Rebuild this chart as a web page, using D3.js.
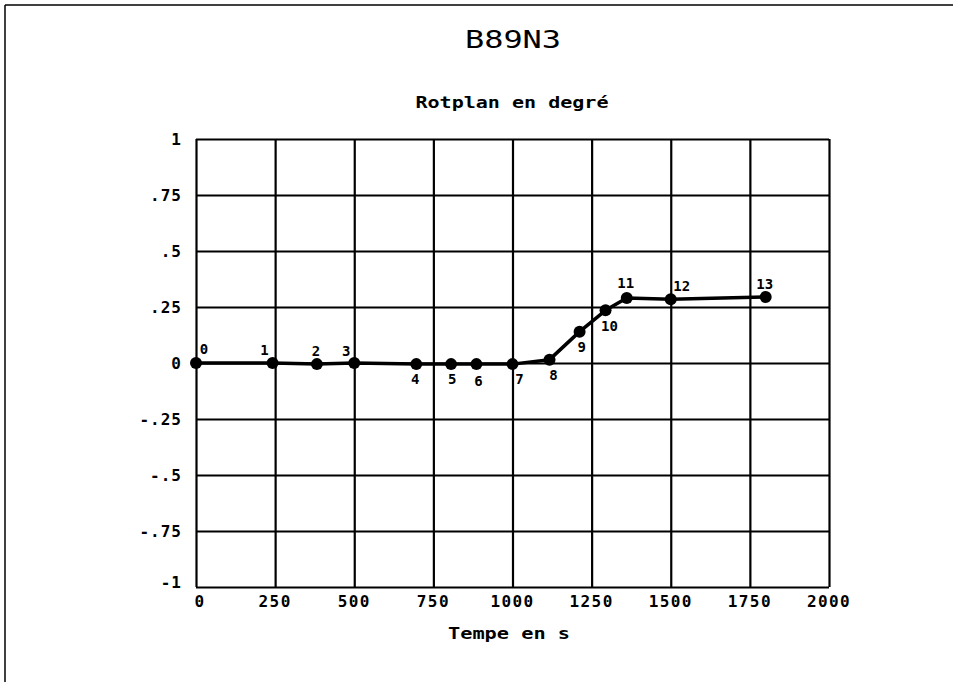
<!DOCTYPE html>
<html>
<head>
<meta charset="utf-8">
<script src="https://cdn.jsdelivr.net/npm/d3@7"></script>
<style>
  html, body { margin: 0; padding: 0; background: #fff; }
  svg { display: block; }
  text { fill: #000; }
</style>
</head>
<body>
<svg id="chart" width="953" height="682"></svg>
<script>
// Measurement series: time (s) against in-plane rotation (degrees)
const times  = [0, 242, 382, 500, 696, 806, 886, 1000, 1117, 1212, 1294, 1361, 1500, 1800];
const values = [0, 0, -0.005, 0, -0.005, -0.005, -0.005, -0.005, 0.015, 0.14, 0.235, 0.29, 0.285, 0.295];
const pointNames = ["0","1","2","3","4","5","6","7","8","9","10","11","12","13"];

const xTicks = [0, 250, 500, 750, 1000, 1250, 1500, 1750, 2000];
const yTicks = [-1, -0.75, -0.5, -0.25, 0, 0.25, 0.5, 0.75, 1];
const yTickLabels = ["-1", "-.75", "-.5", "-.25", "0", ".25", ".5", ".75", "1"];

const chartTitle = "B89N3";
const yTitle = "Rotplan en degré";
const xTitle = "Tempe en s";

// label placement around each marker (dx, dy)
const labelOffsets = [
  [8, -14], [-8, -13], [-1, -13], [-8, -12], [-1, 15], [1, 15], [2, 17],
  [7, 15], [4, 15], [2, 15], [4, 16], [-1, -15], [11, -13], [-1, -13]
];

const svg = d3.select("#chart");
const mono = "'DejaVu Sans Mono', 'Liberation Mono', monospace";

const x = d3.scaleLinear().domain([0, 2000]).range([196, 829]);
const y = d3.scaleLinear().domain([-1, 1]).range([587, 139]);

// page frame (top and left edges)
svg.append("line").attr("x1", 5).attr("x2", 953).attr("y1", 5).attr("y2", 5)
  .attr("stroke", "#000").attr("stroke-width", 1.5);
svg.append("line").attr("x1", 5).attr("x2", 5).attr("y1", 5).attr("y2", 682)
  .attr("stroke", "#000").attr("stroke-width", 1.5);

// titles
svg.append("text").attr("x", 513).attr("y", 48)
  .attr("text-anchor", "middle")
  .attr("font-family", mono).attr("font-size", 24)
  .attr("textLength", 96).attr("lengthAdjust", "spacingAndGlyphs")
  .text(chartTitle);

svg.append("text").attr("x", 512).attr("y", 108)
  .attr("text-anchor", "middle")
  .attr("font-family", mono).attr("font-weight", "bold").attr("font-size", 15)
  .attr("textLength", 193).attr("lengthAdjust", "spacingAndGlyphs")
  .text(yTitle);

svg.append("text").attr("x", 509).attr("y", 639)
  .attr("text-anchor", "middle")
  .attr("font-family", mono).attr("font-weight", "bold").attr("font-size", 16)
  .attr("textLength", 122).attr("lengthAdjust", "spacingAndGlyphs")
  .text(xTitle);

// grid built from axes with full-length ticks
svg.append("g")
  .attr("transform", `translate(0,${y(-1)})`)
  .call(d3.axisBottom(x).tickValues(xTicks).tickSize(-(y(-1) - y(1))).tickFormat(""));
svg.append("g")
  .attr("transform", `translate(${x(0)},0)`)
  .call(d3.axisLeft(y).tickValues(yTicks).tickSize(-(x(2000) - x(0))).tickFormat(""));
svg.selectAll(".domain").remove();
svg.selectAll(".tick line").attr("stroke", "#000").attr("stroke-width", 2.2);

// tick labels
svg.append("g").selectAll("text").data(xTicks).join("text")
  .attr("x", (d, i) => x(d) + (i === 0 ? 4 : 0))
  .attr("y", 607)
  .attr("text-anchor", "middle")
  .attr("font-family", mono).attr("font-weight", "bold").attr("font-size", 16)
  .attr("letter-spacing", 1.4)
  .text(d => String(d));

svg.append("g").selectAll("text").data(yTicks).join("text")
  .attr("x", 182)
  .attr("y", d => y(d) + (d === -1 ? -5 : 0))
  .attr("dy", "0.36em")
  .attr("text-anchor", "end")
  .attr("font-family", mono).attr("font-weight", "bold").attr("font-size", 16)
  .attr("letter-spacing", 1)
  .text((d, i) => yTickLabels[i]);

// data line and markers
const pts = times.map((t, i) => [t, values[i]]);
svg.append("path")
  .datum(pts)
  .attr("fill", "none").attr("stroke", "#000").attr("stroke-width", 3.5)
  .attr("stroke-linejoin", "round")
  .attr("d", d3.line().x(d => x(d[0])).y(d => y(d[1])));

svg.append("g").selectAll("circle").data(pts).join("circle")
  .attr("cx", d => x(d[0])).attr("cy", d => y(d[1])).attr("r", 6)
  .attr("fill", "#000");

svg.append("g").selectAll("text").data(pts).join("text")
  .attr("x", (d, i) => x(d[0]) + labelOffsets[i][0])
  .attr("y", (d, i) => y(d[1]) + labelOffsets[i][1])
  .attr("dy", "0.36em")
  .attr("text-anchor", "middle")
  .attr("font-family", mono).attr("font-weight", "bold").attr("font-size", 14)
  .text((d, i) => pointNames[i]);
</script>
</body>
</html>
